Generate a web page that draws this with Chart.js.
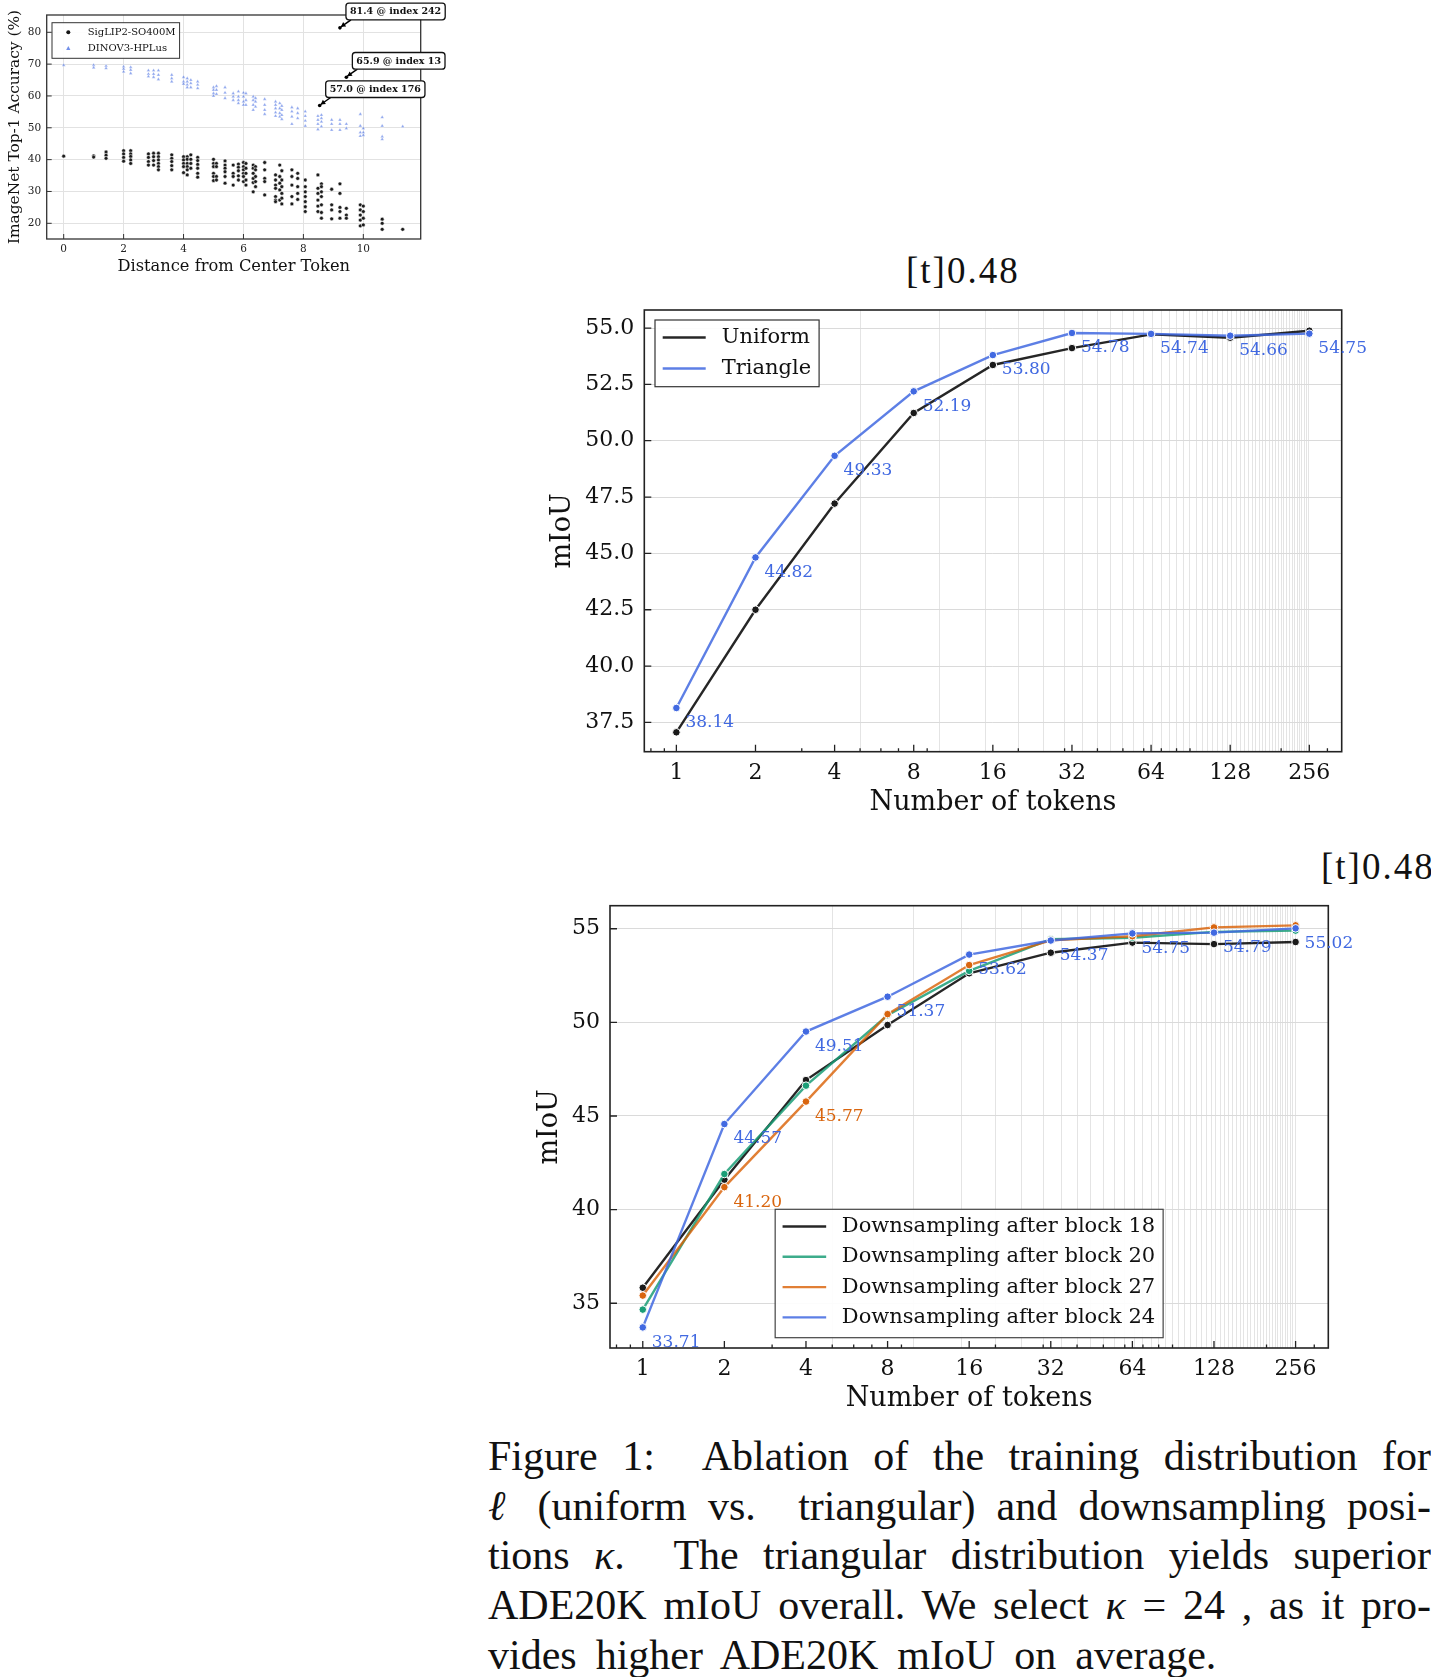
<!DOCTYPE html>
<html>
<head>
<meta charset="utf-8">
<script src="https://cdn.jsdelivr.net/npm/chart.js@4.4.1/dist/chart.umd.min.js"></script>
<style>
html,body{margin:0;padding:0;background:#fff;}
body{width:1431px;height:1677px;position:relative;overflow:hidden;}
canvas{position:absolute;display:block;}
.tag{position:absolute;font-family:'Liberation Serif',serif;font-size:37px;line-height:37px;letter-spacing:2px;color:#111;white-space:nowrap;}
#caption{position:absolute;left:488px;top:1432px;width:943px;font-family:'Liberation Serif',serif;font-size:42px;color:#111;}
#caption .ln{height:49.7px;line-height:49.7px;text-align:justify;text-align-last:justify;}
#caption .ln.last{text-align:left;text-align-last:left;word-spacing:8.5px;}
</style>
</head>
<body>
<canvas id="c1" width="450" height="280" style="left:0;top:0;"></canvas>
<div class="tag" style="left:906px;top:252px;">[t]0.48</div>
<canvas id="c2" width="931" height="580" style="left:500px;top:240px;"></canvas>
<div class="tag" style="left:1321px;top:848px;">[t]0.48</div>
<canvas id="c3" width="951" height="580" style="left:480px;top:840px;"></canvas>
<div id="caption">
<div class="ln">Figure 1:&nbsp; Ablation of the training distribution for</div>
<div class="ln"><i>ℓ</i> (uniform vs.&nbsp; triangular) and downsampling posi-</div>
<div class="ln">tions <i>κ</i>.&nbsp; The triangular distribution yields superior</div>
<div class="ln">ADE20K mIoU overall. We select <i>κ</i> = 24 , as it pro-</div>
<div class="ln last">vides higher ADE20K mIoU on average.</div>
</div>
<script>
// ================= DATA =================
// --- scatter (top-left) ---
const scatterDistances = [0, 1, 1.414, 2, 2.236, 2.828, 3, 3.162, 3.606, 4, 4.123, 4.243, 4.472, 5, 5.099, 5.385, 5.657, 5.831, 6, 6.083, 6.325, 6.403, 6.708, 7.071, 7.211, 7.280, 7.616, 7.810, 8.062, 8.485, 8.602, 8.944, 9.220, 9.434, 9.899, 10, 10.630, 11.314];
const siglipAccuracy = [
 [41.1],
 [41.2, 40.8],
 [42.4, 41.4, 40.4],
 [42.8, 41.8, 40.7, 39.5],
 [42.8, 41.8, 41.0, 39.9, 38.8],
 [41.8, 40.7, 39.4, 38.3],
 [42.0, 40.9, 39.7, 38.3],
 [42.0, 40.9, 39.9, 38.8, 37.8, 36.8],
 [41.5, 40.4, 39.4, 38.1, 36.8],
 [40.9, 39.9, 38.8, 37.8, 35.9],
 [40.9, 40.1, 38.8, 37.8, 36.8, 35.2],
 [41.5, 40.1, 38.8, 37.3],
 [40.7, 39.7, 38.5, 37.3, 35.7, 34.5],
 [40.1, 38.8, 37.8, 35.7, 34.7, 33.4],
 [38.8, 37.8, 34.7, 33.6],
 [39.6, 38.3, 37.3, 36.2, 34.7, 32.6],
 [38.3, 35.7, 34.7, 32.0],
 [38.6, 37.6, 36.5, 34.9, 33.6],
 [39.1, 37.8, 36.8, 35.7, 34.7, 33.1],
 [38.8, 37.3, 35.7, 33.6, 32.0],
 [38.3, 37.3, 35.7, 34.1, 32.8, 29.9],
 [37.8, 36.8, 34.7, 33.1, 31.5],
 [39.1, 36.8, 34.1, 33.1, 28.9],
 [35.2, 33.6, 32.0, 31.0, 28.4, 27.3, 26.8],
 [38.3, 34.7, 32.6, 30.5, 27.3],
 [36.5, 33.6, 31.5, 29.4, 27.9, 26.1],
 [36.8, 34.7, 32.0, 28.4, 26.1],
 [35.7, 34.1, 31.5, 29.4, 27.5],
 [33.6, 31.5, 29.9, 28.4, 26.8, 25.2, 23.7],
 [35.2, 31.0, 29.4, 27.3, 25.4, 23.7],
 [32.4, 31.5, 29.9, 28.4, 25.8, 23.4, 21.6],
 [30.7, 25.8, 24.2, 21.4],
 [32.4, 29.4, 25.0, 23.7, 21.6],
 [24.7, 22.6, 21.6],
 [25.8, 24.2, 22.6, 21.0, 19.2],
 [25.4, 23.7, 21.6, 19.5],
 [21.3, 20.0, 18.1],
 [18.1]
];
const dinoAccuracy = [
 [69.7],
 [69.7, 68.9],
 [69.4, 68.7],
 [69.2, 68.5, 67.6],
 [69.0, 68.2, 67.1],
 [68.0, 66.9, 66.1],
 [68.0, 66.9, 65.9],
 [68.0, 66.6, 65.2],
 [66.6, 65.5, 64.5],
 [65.9, 64.5, 63.8],
 [65.5, 64.5, 63.5, 62.7],
 [65.0, 64.0, 62.7],
 [64.5, 63.5, 62.4],
 [62.7, 61.9, 60.8, 60.0],
 [63.1, 61.9, 60.6],
 [62.7, 61.0, 59.3],
 [60.8, 59.8, 58.7],
 [61.4, 59.8, 58.7, 57.7],
 [61.0, 59.8, 58.2, 57.2],
 [60.8, 58.7, 57.2],
 [59.8, 58.7, 57.2, 55.6],
 [59.3, 58.2, 56.6],
 [59.0, 57.2, 55.6, 54.3],
 [58.2, 57.2, 56.1, 54.8, 53.7],
 [57.7, 56.1, 54.6, 53.5],
 [56.9, 55.6, 54.0, 52.7],
 [56.4, 55.1, 53.5, 51.2],
 [56.1, 54.6, 53.0],
 [55.1, 53.7, 52.2, 50.6],
 [53.7, 52.5, 51.2, 49.5],
 [54.0, 53.0, 51.9, 50.4],
 [52.5, 51.2, 49.3],
 [52.5, 51.2, 49.3],
 [51.2, 49.8],
 [54.3, 50.6, 48.5, 47.4],
 [49.8, 48.5, 47.7],
 [53.3, 50.6, 47.2, 46.4],
 [50.4]
];
const outlierDistances = [9.220, 9.434, 8.544];
const outlierAccuracy = [81.4, 65.9, 57.0];
const outlierIndex = [242, 13, 176];
const scatterSeriesNames = ['SigLIP2-SO400M', 'DINOV3-HPLus'];
const scatterXTicks = [0, 2, 4, 6, 8, 10];
const scatterYTicks = [20, 30, 40, 50, 60, 70, 80];

// --- middle chart ---
const tokenCounts = [1, 2, 4, 8, 16, 32, 64, 128, 256];
const uniformMiou = [37.06, 42.50, 47.21, 51.23, 53.36, 54.11, 54.72, 54.57, 54.88];
const triangleMiou = [38.14, 44.82, 49.33, 52.19, 53.80, 54.78, 54.74, 54.66, 54.75];
const distNames = ['Uniform', 'Triangle'];
const midYTicks = [37.5, 40.0, 42.5, 45.0, 47.5, 50.0, 52.5, 55.0];

// --- bottom chart ---
const block18Miou = [35.83, 41.60, 46.92, 49.86, 52.62, 53.72, 54.26, 54.18, 54.29];
const block20Miou = [34.66, 41.90, 46.62, 50.38, 52.75, 54.44, 54.52, 54.83, 54.90];
const block27Miou = [35.41, 41.20, 45.77, 50.44, 53.06, 54.38, 54.60, 55.07, 55.18];
const block24Miou = [33.71, 44.57, 49.51, 51.37, 53.62, 54.37, 54.75, 54.79, 55.02];
const blockNames = ['Downsampling after block 18', 'Downsampling after block 20', 'Downsampling after block 27', 'Downsampling after block 24'];
const block27LabelIdx = [1, 2];
const botYTicks = [35, 40, 45, 50, 55];

// minor (base-10) tick values and grid values on token axes
const tokenMinorTicks = [0.8, 0.9, 3, 5, 6, 7, 9, 20, 30, 40, 50, 60, 70, 80, 90, 200, 300];
const tokenGridValues = [];
for (let v = 5; v <= 255; v += 5) tokenGridValues.push(v);
const tokenAxisValues = Array.from(new Set(tokenCounts.concat(tokenGridValues))).sort((a, b) => a - b);

// ================= COLORS =================
const C_BLACK = 'rgba(0,0,0,0.85)', C_BLACK_P = '#1a1a1a';
const C_BLUE = 'rgba(65,105,225,0.85)', C_BLUE_P = '#4169e1';
const C_GREEN = 'rgba(27,158,119,0.85)', C_GREEN_P = '#1b9e77';
const C_ORANGE = 'rgba(217,95,2,0.8)', C_ORANGE_P = '#d9650e';

Chart.defaults.font.family = "'DejaVu Serif', serif";
Chart.defaults.color = '#111';
Chart.defaults.animation = false;
Chart.defaults.plugins.legend.display = false;
Chart.defaults.plugins.tooltip.enabled = false;

// ================= PLUGIN =================
function drawFrame(chart, o) {
  const ctx = chart.ctx, a = chart.chartArea;
  ctx.save();
  ctx.strokeStyle = o.color; ctx.lineWidth = o.width;
  ctx.strokeRect(a.left, a.top, a.right - a.left, a.bottom - a.top);
  ctx.restore();
}
function drawTicks(chart, o) {
  const ctx = chart.ctx, a = chart.chartArea, xs = chart.scales.x, ys = chart.scales.y;
  ctx.save();
  ctx.strokeStyle = o.color; ctx.lineWidth = o.width;
  ctx.beginPath();
  const xt = (vals, len) => vals.forEach(v => {
    const p = xs.getPixelForValue(v);
    if (p < a.left - 0.5 || p > a.right + 0.5) return;
    ctx.moveTo(p, a.bottom); ctx.lineTo(p, a.bottom - len);
  });
  const yt = (vals, len) => vals.forEach(v => {
    const p = ys.getPixelForValue(v);
    if (p < a.top - 0.5 || p > a.bottom + 0.5) return;
    ctx.moveTo(a.left, p); ctx.lineTo(a.left + len, p);
  });
  xt(o.xMajor || [], o.majorLen);
  xt(o.xMinor || [], o.minorLen);
  yt(o.yMajor || [], o.majorLen);
  ctx.stroke();
  ctx.restore();
}
function drawLabels(chart, list) {
  const ctx = chart.ctx, xs = chart.scales.x, ys = chart.scales.y;
  list.forEach(l => {
    ctx.save();
    ctx.font = l.font; ctx.fillStyle = l.color; ctx.textAlign = 'left'; ctx.textBaseline = 'middle';
    l.points.forEach(p => {
      ctx.fillText(p.text, xs.getPixelForValue(p.x) + l.dx, ys.getPixelForValue(p.y) + l.dy);
    });
    ctx.restore();
  });
}
function drawLegend(chart, o) {
  const ctx = chart.ctx, a = chart.chartArea;
  ctx.save();
  ctx.font = o.font;
  const maxW = Math.max(...o.items.map(it => ctx.measureText(it.text).width));
  const w = o.textX + maxW + o.padR, h = o.height;
  let left, top;
  if (o.anchor === 'upper left') { left = a.left + o.dx; top = a.top + o.dy; }
  else { left = (a.left + a.right) / 2 - w / 2; top = a.bottom - o.dy - h; }
  ctx.fillStyle = 'rgba(255,255,255,0.92)';
  ctx.fillRect(left, top, w, h);
  ctx.strokeStyle = o.borderColor; ctx.lineWidth = o.borderWidth;
  ctx.strokeRect(left, top, w, h);
  o.items.forEach((it, i) => {
    const cy = top + o.firstRow + i * o.rowH;
    if (it.marker === 'circle') {
      ctx.fillStyle = it.color; ctx.beginPath(); ctx.arc(left + o.markerX, cy, 2, 0, Math.PI * 2); ctx.fill();
    } else if (it.marker === 'triangle') {
      const mx = left + o.markerX;
      ctx.fillStyle = it.color; ctx.beginPath();
      ctx.moveTo(mx, cy - 2.2); ctx.lineTo(mx + 2.1, cy + 1.6); ctx.lineTo(mx - 2.1, cy + 1.6); ctx.closePath(); ctx.fill();
    } else {
      ctx.strokeStyle = it.color; ctx.lineWidth = o.lineWidth; ctx.beginPath();
      ctx.moveTo(left + o.lineX0, cy); ctx.lineTo(left + o.lineX1, cy); ctx.stroke();
    }
    ctx.fillStyle = '#111'; ctx.textAlign = 'left'; ctx.textBaseline = 'middle';
    ctx.fillText(it.text, left + o.textX, cy);
  });
  ctx.restore();
}
function drawAnnotations(chart, o) {
  const ctx = chart.ctx, xs = chart.scales.x, ys = chart.scales.y;
  ctx.save();
  ctx.font = o.font;
  o.items.forEach(it => {
    const px = xs.getPixelForValue(it.x), py = ys.getPixelForValue(it.y);
    const tw = ctx.measureText(it.text).width;
    const w = tw + o.padX * 2, h = o.height;
    const left = px + o.dx, bottom = py - o.dy, top = bottom - h;
    // arrow
    const sx = left + 5, sy = bottom, ex = px + 1, ey = py - 1;
    ctx.strokeStyle = '#000'; ctx.fillStyle = '#000'; ctx.lineWidth = 1.5;
    ctx.beginPath(); ctx.moveTo(sx, sy); ctx.lineTo(ex, ey); ctx.stroke();
    const ang = Math.atan2(ey - sy, ex - sx), hl = 4.5, hw = 2.6;
    ctx.beginPath();
    ctx.moveTo(ex, ey);
    ctx.lineTo(ex - hl * Math.cos(ang) + hw * Math.sin(ang), ey - hl * Math.sin(ang) - hw * Math.cos(ang));
    ctx.lineTo(ex - hl * Math.cos(ang) - hw * Math.sin(ang), ey - hl * Math.sin(ang) + hw * Math.cos(ang));
    ctx.closePath(); ctx.fill();
    // box
    ctx.beginPath();
    ctx.roundRect(left, top, w, h, 3);
    ctx.fillStyle = '#fff'; ctx.fill();
    ctx.strokeStyle = '#111'; ctx.lineWidth = 1.3; ctx.stroke();
    ctx.fillStyle = '#111'; ctx.textAlign = 'center'; ctx.textBaseline = 'middle';
    ctx.fillText(it.text, left + w / 2, top + h / 2 + 0.5);
  });
  ctx.restore();
}
const decoPlugin = {
  id: 'deco',
  afterDatasetsDraw(chart, args, o) {
    if (o.frame) drawFrame(chart, o.frame);
    if (o.ticks) drawTicks(chart, o.ticks);
    if (o.labels) drawLabels(chart, o.labels);
  },
  afterDraw(chart, args, o) {
    if (o.legend) drawLegend(chart, o.legend);
    if (o.annotations) drawAnnotations(chart, o.annotations);
  }
};

// ================= CHART 1: scatter =================
const siglipPoints = scatterDistances.flatMap((d, i) => siglipAccuracy[i].map(v => ({x: d, y: v})));
const dinoPoints = scatterDistances.flatMap((d, i) => dinoAccuracy[i].map(v => ({x: d, y: v})));
const outlierPoints = outlierDistances.map((d, i) => ({x: d, y: outlierAccuracy[i]}));

new Chart(document.getElementById('c1'), {
  type: 'scatter',
  data: {
    datasets: [
      {label: 'outliers', data: outlierPoints, pointRadius: 1.8, pointBackgroundColor: '#000', pointBorderWidth: 0},
      {label: scatterSeriesNames[0], data: siglipPoints, pointStyle: 'circle', pointRadius: 1.9,
       pointBackgroundColor: '#1c1c1c', pointBorderColor: 'rgba(255,255,255,0.85)', pointBorderWidth: 0.6},
      {label: scatterSeriesNames[1], data: dinoPoints, pointStyle: 'triangle', pointRadius: 2.1,
       pointBackgroundColor: 'rgba(65,105,225,0.6)', pointBorderColor: 'rgba(255,255,255,0.7)', pointBorderWidth: 0.5}
    ]
  },
  options: {
    responsive: false, devicePixelRatio: 1,
    layout: {padding: {top: 15, right: 29.3, left: 0, bottom: 0}},
    scales: {
      x: {
        type: 'linear', min: -0.567, max: 11.915,
        afterBuildTicks: s => { s.ticks = scatterXTicks.map(v => ({value: v})); },
        afterFit: s => { s.height = 41; },
        ticks: {autoSkip: false, maxRotation: 0, padding: 4, font: {size: 10.5}, color: '#222', callback: v => String(v)},
        grid: {drawTicks: false, color: '#e2e2e2', lineWidth: 1},
        border: {display: false},
        title: {display: true, text: 'Distance from Center Token', font: {size: 16.3, lineHeight: 1}, color: '#111', padding: {top: 0, bottom: 5}}
      },
      y: {
        type: 'linear', min: 15.07, max: 85.43,
        afterBuildTicks: s => { s.ticks = scatterYTicks.map(v => ({value: v})); },
        afterFit: s => { s.width = 46.7; },
        ticks: {padding: 5.5, font: {size: 10.5}, color: '#222', callback: v => String(v)},
        grid: {drawTicks: false, color: '#e2e2e2', lineWidth: 1},
        border: {display: false},
        title: {display: true, text: 'ImageNet Top-1 Accuracy (%)', font: {size: 15.4, lineHeight: 1}, color: '#111', padding: {top: 7.3, bottom: 0}}
      }
    },
    plugins: {
      deco: {
        frame: {color: '#333', width: 1.3},
        ticks: {color: '#333', width: 1, majorLen: 5, minorLen: 3, xMajor: scatterXTicks, yMajor: scatterYTicks},
        legend: {
          anchor: 'upper left', dx: 5.3, dy: 7.7, height: 35.6, firstRow: 9.6, rowH: 16,
          markerX: 16.3, textX: 35.7, padR: 4, font: "10px 'DejaVu Serif'", borderColor: '#333', borderWidth: 1,
          items: [
            {text: scatterSeriesNames[0], marker: 'circle', color: '#151515'},
            {text: scatterSeriesNames[1], marker: 'triangle', color: 'rgba(65,105,225,0.75)'}
          ]
        },
        annotations: {
          font: "bold 9.5px 'DejaVu Serif'", padX: 4, height: 16.7, dx: 6, dy: 8,
          items: outlierDistances.map((d, i) => ({x: d, y: outlierAccuracy[i], text: outlierAccuracy[i].toFixed(1) + ' @ index ' + outlierIndex[i]}))
        }
      }
    }
  },
  plugins: [decoPlugin]
});

// ================= helper for token charts =================
function tokenScales(o) {
  return {
    x: {
      type: 'logarithmic', min: o.xMin, max: o.xMax,
      afterBuildTicks: s => { s.ticks = tokenAxisValues.map(v => ({value: v})); },
      afterFit: s => { s.height = o.xH; },
      ticks: {autoSkip: false, maxRotation: 0, minRotation: 0, padding: o.xPad, font: {size: 22}, color: '#111',
              callback: v => tokenCounts.includes(v) ? String(v) : ''},
      grid: {drawTicks: false, lineWidth: 1,
             color: c => (c.tick && c.tick.value % 5 === 0) ? '#e4e4e4' : 'rgba(0,0,0,0)'},
      border: {display: false},
      title: {display: true, text: 'Number of tokens', font: {size: 27, lineHeight: 1}, color: '#111', padding: {top: 0, bottom: o.xTitlePad}}
    },
    y: {
      type: 'linear', min: o.yMin, max: o.yMax,
      afterBuildTicks: s => { s.ticks = o.yTicks.map(v => ({value: v})); },
      afterFit: s => { s.width = o.yW; },
      ticks: {padding: 10, font: {size: 22}, color: '#111', callback: v => v.toFixed(o.yDec)},
      grid: {drawTicks: false, color: '#dadada', lineWidth: 1},
      border: {display: false},
      title: {display: true, text: 'mIoU', font: {size: 27, lineHeight: 1}, color: '#111', padding: {top: o.yTitlePad, bottom: 0}}
    }
  };
}
function lineSet(label, values, color, pcolor) {
  return {
    label, data: tokenCounts.map((t, i) => ({x: t, y: values[i]})),
    borderColor: color, borderWidth: 2.4, backgroundColor: pcolor,
    pointRadius: 3.8, pointBackgroundColor: pcolor, pointBorderColor: '#fff', pointBorderWidth: 1,
    tension: 0, clip: false
  };
}

// ================= CHART 2: middle =================
new Chart(document.getElementById('c2'), {
  type: 'line',
  data: {
    datasets: [
      lineSet(distNames[1], triangleMiou, C_BLUE, C_BLUE_P),
      lineSet(distNames[0], uniformMiou, C_BLACK, C_BLACK_P)
    ]
  },
  options: {
    responsive: false, devicePixelRatio: 1,
    layout: {padding: {top: 70, right: 89.3, left: 0, bottom: 0}},
    scales: tokenScales({xMin: 0.755, xMax: 340, xH: 68.3, xPad: 8, xTitlePad: 4,
                         yMin: 36.2, yMax: 55.8, yTicks: midYTicks, yDec: 1, yW: 144.3, yTitlePad: 49.5}),
    plugins: {
      deco: {
        frame: {color: '#222', width: 1.6},
        ticks: {color: '#222', width: 1.3, majorLen: 7, minorLen: 3.5, xMajor: tokenCounts, xMinor: tokenMinorTicks, yMajor: midYTicks},
        labels: [{
          font: "17px 'DejaVu Serif'", color: C_BLUE_P, dx: 9, dy: 15,
          points: tokenCounts.map((t, i) => ({x: t, y: triangleMiou[i], text: triangleMiou[i].toFixed(2)}))
        }],
        legend: {
          anchor: 'upper left', dx: 10.7, dy: 10, height: 66.7, firstRow: 17.5, rowH: 31,
          lineX0: 7.7, lineX1: 50.7, textX: 66.7, padR: 8, lineWidth: 2.4,
          font: "21px 'DejaVu Serif'", borderColor: '#333', borderWidth: 1.2,
          items: [{text: distNames[0], color: C_BLACK}, {text: distNames[1], color: C_BLUE}]
        }
      }
    }
  },
  plugins: [decoPlugin]
});

// ================= CHART 3: bottom =================
new Chart(document.getElementById('c3'), {
  type: 'line',
  data: {
    datasets: [
      lineSet(blockNames[3], block24Miou, C_BLUE, C_BLUE_P),
      lineSet(blockNames[2], block27Miou, C_ORANGE, C_ORANGE_P),
      lineSet(blockNames[1], block20Miou, C_GREEN, C_GREEN_P),
      lineSet(blockNames[0], block18Miou, C_BLACK, C_BLACK_P)
    ]
  },
  options: {
    responsive: false, devicePixelRatio: 1,
    layout: {padding: {top: 65.7, right: 102.7, left: 0, bottom: 0}},
    scales: tokenScales({xMin: 0.757, xMax: 338, xH: 72, xPad: 8, xTitlePad: 7.5,
                         yMin: 32.61, yMax: 56.23, yTicks: botYTicks, yDec: 0, yW: 130, yTitlePad: 56.5}),
    plugins: {
      deco: {
        frame: {color: '#222', width: 1.6},
        ticks: {color: '#222', width: 1.3, majorLen: 7, minorLen: 3.5, xMajor: tokenCounts, xMinor: tokenMinorTicks, yMajor: botYTicks},
        labels: [
          {font: "17px 'DejaVu Serif'", color: C_BLUE_P, dx: 9, dy: 15,
           points: tokenCounts.map((t, i) => ({x: t, y: block24Miou[i], text: block24Miou[i].toFixed(2)}))},
          {font: "17px 'DejaVu Serif'", color: C_ORANGE_P, dx: 9, dy: 15,
           points: block27LabelIdx.map(i => ({x: tokenCounts[i], y: block27Miou[i], text: block27Miou[i].toFixed(2)}))}
        ],
        legend: {
          anchor: 'lower center', dy: 10.3, height: 128.4, firstRow: 17.2, rowH: 30.3,
          lineX0: 7.4, lineX1: 51, textX: 66.7, padR: 8, lineWidth: 2.4,
          font: "21px 'DejaVu Serif'", borderColor: '#444', borderWidth: 1.2,
          items: [
            {text: blockNames[0], color: C_BLACK},
            {text: blockNames[1], color: C_GREEN},
            {text: blockNames[2], color: C_ORANGE},
            {text: blockNames[3], color: C_BLUE}
          ]
        }
      }
    }
  },
  plugins: [decoPlugin]
});
</script>
</body>
</html>
